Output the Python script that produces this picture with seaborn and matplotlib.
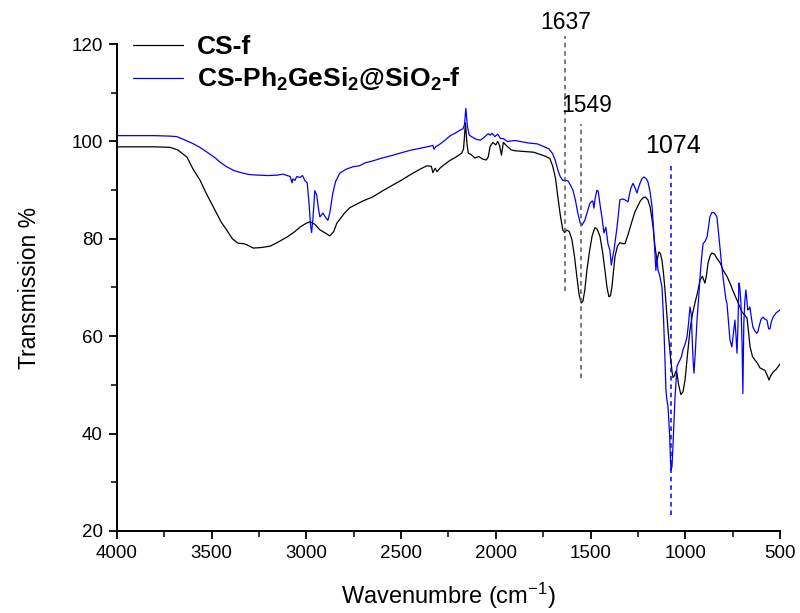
import numpy as np
import pandas as pd
import matplotlib
matplotlib.use("Agg")
import matplotlib.pyplot as plt
import seaborn as sns

# ---------------- data ----------------
cs_f_wn = [4000, 3800, 3720, 3680, 3630, 3600, 3560, 3530, 3490, 3450, 3420, 3390, 3360, 3330, 3310,
           3280, 3240, 3190, 3150, 3100, 3060, 3030, 3000, 2980, 2955, 2930, 2900, 2876, 2855, 2839,
           2800, 2770, 2700, 2650, 2600, 2550, 2500, 2450, 2400, 2364, 2340, 2332, 2320, 2310, 2295,
           2270, 2242, 2210, 2180, 2170, 2160, 2152, 2145, 2130, 2110, 2090, 2070, 2050, 2040, 2030,
           2015, 2000, 1990, 1980, 1970, 1960, 1945, 1920, 1900, 1870, 1800, 1770, 1740, 1715, 1700,
           1685, 1672, 1660, 1646, 1637, 1625, 1612, 1598, 1585, 1572, 1560, 1549, 1540, 1530, 1519,
           1505, 1492, 1477, 1465, 1450, 1437, 1424, 1413, 1403, 1395, 1387, 1378, 1371, 1358, 1345,
           1330, 1318, 1305, 1292, 1278, 1265, 1250, 1237, 1223, 1210, 1197, 1185, 1170, 1160, 1149,
           1139, 1131, 1123, 1115, 1107, 1099, 1091, 1080, 1070, 1065, 1058, 1050, 1044, 1035, 1023,
           1012, 1001, 990, 975, 962, 949, 935, 922, 910, 896, 888, 880, 868, 859, 845,
           833, 815, 801, 780, 764, 745, 727, 712, 701, 685, 674, 665, 658, 645, 632,
           620, 606, 592, 580, 568, 558, 550, 537, 520, 500]
cs_f_t = [98.9, 98.9, 98.8, 98.3, 96.8, 94.5, 92.0, 89.5, 86.5, 83.5, 81.8, 80.0, 79.1, 79.0, 78.7,
          78.1, 78.2, 78.5, 79.3, 80.4, 81.5, 82.5, 83.2, 83.5, 83.0, 81.9, 81.2, 80.6, 81.5, 83.2,
          85.2, 86.4, 87.8, 88.6, 89.8, 90.9, 92.0, 93.2, 94.3, 95.0, 94.9, 93.6, 94.5, 93.8, 94.5,
          95.3, 96.1, 96.8, 97.6, 98.5, 103.8, 99.5, 97.6, 97.3, 96.6, 96.9, 96.4, 96.2, 96.8, 99.0,
          99.8, 99.3, 100.0, 99.2, 97.2, 99.8, 99.2, 98.3, 98.1, 98.0, 97.8, 97.4, 97.0, 96.5, 95.0,
          92.5, 88.5, 85.0, 81.8, 81.3, 81.8, 81.5, 79.8, 76.5, 72.2, 68.5, 66.8, 67.2, 69.5, 73.6,
          77.5, 80.5, 82.3, 82.0, 80.5, 77.5, 73.6, 70.0, 68.1, 68.3, 70.1, 73.5, 76.3, 78.5, 79.2,
          79.0, 79.0, 80.5, 82.2, 84.0, 85.6, 86.8, 87.8, 88.4, 88.6, 88.0, 86.5, 82.5, 78.5, 75.5,
          77.3, 77.0, 75.6, 73.0, 69.5, 65.5, 61.3, 56.5, 52.8, 51.5, 51.8, 52.8, 52.4, 50.0, 48.0,
          48.6, 51.0, 55.5, 61.3, 64.5, 66.8, 69.0, 71.5, 72.3, 70.9, 72.5, 75.0, 76.6, 77.1, 76.8,
          76.0, 75.0, 73.6, 72.3, 70.9, 69.0, 67.4, 66.0, 65.0, 64.3, 63.7, 60.5, 57.8, 55.8, 55.1,
          54.5, 53.5, 53.2, 53.0, 52.0, 51.0, 51.8, 52.6, 53.2, 54.3]

cs_ge_wn = [4000, 3800, 3720, 3683, 3640, 3600, 3562, 3520, 3480, 3450, 3420, 3380, 3335, 3300, 3261,
            3200, 3150, 3124, 3100, 3085, 3075, 3071, 3060, 3050, 3034, 3020, 3008, 2995, 2985, 2978,
            2972, 2965, 2955, 2945, 2935, 2928, 2912, 2900, 2886, 2875, 2860, 2845, 2823, 2790, 2754,
            2720, 2690, 2650, 2600, 2550, 2506, 2450, 2400, 2350, 2332, 2326, 2315, 2300, 2270, 2240,
            2210, 2190, 2173, 2165, 2158, 2150, 2140, 2120, 2100, 2080, 2060, 2040, 2030, 2020, 2005,
            1990, 1975, 1960, 1940, 1900, 1870, 1830, 1780, 1750, 1720, 1700, 1685, 1672, 1660, 1646,
            1630, 1619, 1605, 1593, 1580, 1567, 1555, 1545, 1530, 1515, 1503, 1490, 1487, 1482, 1475,
            1466, 1460, 1455, 1448, 1440, 1429, 1419, 1408, 1398, 1390, 1384, 1376, 1368, 1360, 1352,
            1345, 1330, 1318, 1302, 1295, 1287, 1276, 1265, 1255, 1247, 1239, 1228, 1218, 1205, 1197,
            1185, 1175, 1168, 1160, 1155, 1150, 1144, 1135, 1123, 1115, 1110, 1102, 1098, 1091, 1083,
            1078, 1075, 1070, 1062, 1054, 1048, 1044, 1036, 1028, 1020, 1012, 1000, 991, 983, 975,
            968, 964, 958, 954, 948, 938, 930, 922, 914, 906, 895, 885, 877, 870, 860,
            850, 840, 833, 825, 817, 809, 801, 792, 785, 780, 772, 764, 754, 745, 738,
            732, 727, 722, 717, 712, 706, 700, 697, 696, 693, 691, 686, 680, 675, 670,
            665, 659, 650, 643, 632, 622, 616, 611, 600, 590, 580, 569, 560, 553, 545,
            537, 520, 500]
cs_ge_t = [101.2, 101.2, 101.1, 101.0, 100.3, 99.6, 98.8, 97.7, 96.6, 95.6, 94.8, 94.0, 93.5, 93.2, 93.1,
           93.0, 93.1, 93.3, 93.0, 92.8, 91.5, 92.3, 92.0, 92.8, 92.6, 93.0, 92.0, 91.5, 87.0, 83.0,
           81.3, 84.0, 89.9, 89.0, 86.0, 84.5, 85.3, 84.5, 83.8, 85.5, 89.4, 91.8, 93.5, 94.3, 94.8,
           95.0, 95.6, 96.0, 96.6, 97.1, 97.6, 98.2, 98.6, 99.0, 99.2, 98.4, 99.0, 99.3, 100.2, 101.2,
           101.8, 102.3, 102.6, 103.5, 106.8, 103.2, 101.3, 100.8, 100.4, 100.3, 100.9, 101.6, 101.3, 101.7, 101.0,
           101.5, 100.6, 100.6, 100.0, 100.2, 100.0, 99.7, 99.5, 99.0, 98.5, 97.5, 96.0, 94.1, 92.8, 92.0,
           92.0, 91.9, 91.0, 90.0, 88.0, 85.3, 83.3, 82.8, 83.8, 85.8, 87.3, 87.8, 87.6, 86.3, 88.5,
           90.0, 89.8, 88.6, 86.5, 84.5, 81.2, 82.4, 79.0, 77.7, 74.6, 76.0, 77.7, 80.0, 82.4, 85.5,
           88.0, 88.2, 88.0, 87.6, 89.0, 90.4, 91.4, 90.5, 89.4, 90.5, 91.4, 92.4, 92.7, 92.3, 91.7,
           89.5, 86.5, 82.5, 77.0, 73.5, 76.2, 73.6, 72.5, 70.1, 64.0, 58.5, 49.0, 47.2, 45.5, 40.0,
           34.5, 32.5, 33.2, 40.0, 47.5, 51.0, 53.7, 54.5, 55.1, 55.8, 57.2, 58.5, 59.8, 62.5, 66.0,
           64.5, 60.0, 54.5, 52.4, 56.0, 63.3, 67.5, 72.2, 76.0, 79.0, 79.5, 80.4, 82.5, 84.5, 85.4,
           85.4, 85.0, 84.5, 81.5, 78.3, 75.0, 72.2, 69.5, 67.4, 66.8, 63.0, 59.2, 57.8, 61.0, 63.3,
           60.0, 56.5, 62.0, 70.9, 70.0, 66.8, 58.0, 50.0, 48.2, 56.0, 62.6, 67.0, 69.5, 67.5, 65.4,
           65.5, 66.0, 63.5, 61.9, 61.0, 60.6, 61.0, 61.9, 63.5, 63.9, 63.5, 63.3, 61.5, 61.5, 63.0,
           63.9, 64.8, 65.4]

series_names = ["CS-f", r"CS-Ph$_\mathbf{2}$GeSi$_\mathbf{2}$@SiO$_\mathbf{2}$-f"]
series_colors = ["black", "#0000FF"]

peak_labels = ["1637", "1549", "1074"]
peak_wn = [1637, 1549, 1074]
peak_line_lo = [69.3, 51.4, 23.3]
peak_line_hi = [121.6, 103.6, 95.6]
peak_text_x = [1630, 1519, 1065]
peak_text_y = [123.1, 106.0, 97.6]

x_ticks = [4000, 3500, 3000, 2500, 2000, 1500, 1000, 500]
y_ticks = [20, 40, 60, 80, 100, 120]

# ---------------- style ----------------
sns.set_style("ticks")
plt.rcParams["font.family"] = ["Liberation Sans", "DejaVu Sans"]
plt.rcParams["mathtext.fontset"] = "custom"
plt.rcParams["mathtext.rm"] = "Liberation Sans"
plt.rcParams["mathtext.bf"] = "Liberation Sans:bold"
plt.rcParams["mathtext.it"] = "Liberation Sans:italic"
for k in ["text.color", "axes.labelcolor", "xtick.color", "ytick.color", "axes.edgecolor"]:
    plt.rcParams[k] = "black"

df = pd.concat([
    pd.DataFrame({"wn": cs_f_wn, "T": cs_f_t, "sample": series_names[0]}),
    pd.DataFrame({"wn": cs_ge_wn, "T": cs_ge_t, "sample": series_names[1]}),
], ignore_index=True)

fig = plt.figure(figsize=(8.0, 6.13), dpi=100)
ax = fig.add_axes([0.146, 0.134, 0.829, 0.794])

sns.lineplot(data=df, x="wn", y="T", hue="sample", hue_order=series_names,
             palette=dict(zip(series_names, series_colors)), estimator=None, sort=False,
             linewidth=0.9, ax=ax, legend=False)

ax.set_xlim(4000, 500)
ax.set_ylim(20, 120)
ax.set_xticks(x_ticks)
ax.set_yticks(y_ticks)
ax.set_xticks([4000 - 250 * i for i in range(15)], minor=True)
ax.set_yticks([20 + 10 * i for i in range(11)], minor=True)
ax.tick_params(axis="both", which="major", direction="out", length=6, width=1.3,
               labelsize=13.5, colors="black", pad=4)
ax.tick_params(axis="both", which="minor", direction="out", length=4, width=1.1, colors="black")
for s in ["top", "right"]:
    ax.spines[s].set_visible(False)
for s in ["left", "bottom"]:
    ax.spines[s].set_linewidth(1.4)
    ax.spines[s].set_color("black")

ax.set_xlabel("Wavenumbre (cm$^{\\mathrm{-1}}$)", fontsize=17, labelpad=14, color="black")
ax.set_ylabel("Transmission %", fontsize=16.5, labelpad=22, color="black")

# peak markers
line_colors = ["#555555", "#555555", "#0000FF"]
text_sizes = [16.5, 16.5, 18]
for wn, lo, hi, col in zip(peak_wn, peak_line_lo, peak_line_hi, line_colors):
    ax.vlines(wn, lo, hi, colors=col, linestyles=(0, (3, 2.5)), linewidth=1.1, clip_on=False)
for lab, tx, ty, fs in zip(peak_labels, peak_text_x, peak_text_y, text_sizes):
    ax.text(tx, ty, lab, ha="center", va="baseline", fontsize=fs, color="black", clip_on=False)

handles = ax.get_lines()[:2]
leg = ax.legend(handles, series_names, loc="upper left", bbox_to_anchor=(0.008, 1.04),
                frameon=False, prop={"weight": "bold", "size": 19},
                handlelength=1.9, handletextpad=0.55, labelspacing=0.25, borderaxespad=0)
for t in leg.get_texts():
    t.set_color("black")

fig.savefig("out.png", dpi=100)
